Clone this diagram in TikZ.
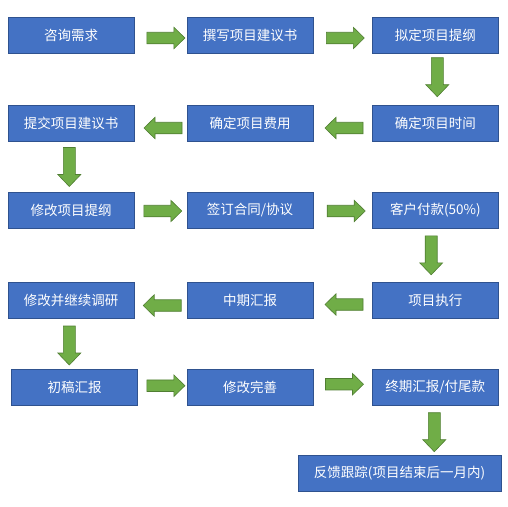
\documentclass[tikz,border=0pt]{standalone}
\usepackage{fontspec}
\newfontfamily\cjk{Noto Sans CJK SC}
\definecolor{boxfill}{HTML}{4472C4}
\definecolor{boxline}{HTML}{2F528F}
\definecolor{arrfill}{HTML}{70AD47}
\definecolor{arrline}{HTML}{507E32}
% horizontal block arrow: center x, center y, direction (1 right, -1 left)
\newcommand\hblockarrow[3]{%
  \path[blockarrow] ({#1-19*#3},{#2-5.75}) -- ({#1+8*#3},{#2-5.75}) -- ({#1+8*#3},{#2-10.75})
    -- ({#1+19*#3},{#2}) -- ({#1+8*#3},{#2+10.75}) -- ({#1+8*#3},{#2+5.75}) -- ({#1-19*#3},{#2+5.75}) -- cycle;}
% downward block arrow: center x, center y
\newcommand\vblockarrow[2]{%
  \path[blockarrow] ({#1-6},{#2-19.5}) -- ({#1+6},{#2-19.5}) -- ({#1+6},{#2+7.5}) -- ({#1+11.5},{#2+7.5})
    -- ({#1},{#2+19.5}) -- ({#1-11.5},{#2+7.5}) -- ({#1-6},{#2+7.5}) -- cycle;}
\begin{document}
\begin{tikzpicture}[x=1pt,y=-1pt,
  stepbox/.style={draw=boxline,fill=boxfill,line width=0.9pt,minimum width=126pt,minimum height=36pt,inner sep=0pt,text=white,font=\cjk\fontsize{13.5}{16}\selectfont},
  blockarrow/.style={draw=arrline,fill=arrfill,line width=0.6pt,line join=miter}]
\useasboundingbox (0,0) rectangle (508,506);
% boxes
\node[stepbox] (n1) at (71,35) {咨询需求};
\node[stepbox] (n2) at (250,35) {撰写项目建议书};
\node[stepbox] (n3) at (435.3,35) {拟定项目提纲};
\node[stepbox] (n4) at (435.3,123) {确定项目时间};
\node[stepbox] (n5) at (250,123) {确定项目费用};
\node[stepbox] (n6) at (71,123) {提交项目建议书};
\node[stepbox] (n7) at (71,210) {修改项目提纲};
\node[stepbox] (n8) at (250,210) {签订合同/协议};
\node[stepbox] (n9) at (435.3,210) {客户付款(50\%)};
\node[stepbox] (n10) at (435.3,300.5) {项目执行};
\node[stepbox] (n11) at (250,300.5) {中期汇报};
\node[stepbox] (n12) at (71,300.5) {修改并继续调研};
\node[stepbox] (n13) at (74.5,387.3) {初稿汇报};
\node[stepbox] (n14) at (250,387.3) {修改完善};
\node[stepbox] (n15) at (435.3,387.3) {终期汇报/付尾款};
\node[stepbox,minimum width=203pt] (n16) at (399.5,473) {反馈跟踪(项目结束后一月内)};
% block arrows
\hblockarrow{165.9}{38}{1}
\hblockarrow{345.3}{38}{1}
\vblockarrow{437.3}{77.2}
\hblockarrow{344}{128}{-1}
\hblockarrow{163}{128}{-1}
\vblockarrow{69.3}{167}
\hblockarrow{162.8}{211}{1}
\hblockarrow{346.2}{211}{1}
\vblockarrow{431.2}{255.3}
\hblockarrow{344}{304.5}{-1}
\hblockarrow{162.2}{305.5}{-1}
\vblockarrow{69.3}{345.5}
\hblockarrow{165.9}{385.7}{1}
\hblockarrow{344.5}{384.2}{1}
\vblockarrow{434.3}{432.2}
\end{tikzpicture}
\end{document}
